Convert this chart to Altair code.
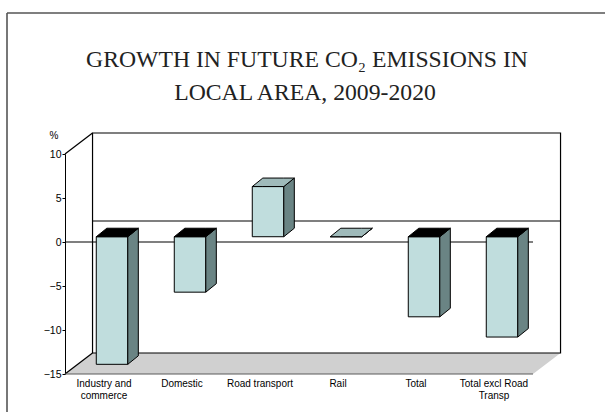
import altair as alt
import pandas as pd

# ---------------- data ----------------
categories = ["Industry and commerce", "Domestic", "Road transport", "Rail",
              "Total", "Total excl Road Transp"]
label_text = ["Industry and\ncommerce", "Domestic", "Road transport", "Rail",
              "Total", "Total excl Road\nTransp"]
values = [-14.5, -6.3, 5.7, 0.0, -9.1, -11.4]
y_ticks = [-15, -10, -5, 0, 5, 10]
title_lines = ["GROWTH IN FUTURE CO\u2082 EMISSIONS IN", "LOCAL AREA, 2009-2020"]
y_min, y_max = -15, 10

# ---------------- 3-D styling constants (in axis units) ----------------
N = len(categories)
WALL_DX, WALL_DY = 0.353, 2.386      # depth of the box (back wall shift)
BAR_OFF, BAR_W = 0.103, 0.404        # front-face centre shift, width
BAR_DX, BAR_DY = 0.135, 0.966        # depth of each column
BAR_V0 = 0.6                         # lift of the column base (depth position)

FRONT = "#c0dddd"
SIDE = "#6a8484"
TOP_POS = "#9fbaba"
TOP_NEG = "#000000"

XS = alt.Scale(domain=[0, N], nice=False, zero=False)
YS = alt.Scale(domain=[y_min, y_max], nice=False, zero=False)
YAX = alt.Axis(values=y_ticks, tickSize=3, labelFont="Liberation Sans",
               labelFontSize=10.5, labelColor="black", domainColor="black",
               tickColor="black", grid=False, title=None, labelPadding=1,
               domainWidth=1)


def X(f="x"):
    return alt.X(f"{f}:Q", scale=XS, axis=None)


def Y(f="y"):
    return alt.Y(f"{f}:Q", scale=YS, axis=YAX)


# floor
fy0, fy1 = y_min, y_min + WALL_DY
floor_df = pd.DataFrame({
    "x": [0, WALL_DX, N, N + WALL_DX],
    "y": [fy0, fy0, fy0, fy1],
    "y2": [fy0, fy1, fy1, fy1],
})
floor = alt.Chart(floor_df).mark_area(color="#d0d0d0", opacity=1).encode(
    x=X(), y=Y(), y2="y2:Q")

# back wall
wall_df = pd.DataFrame({"x": [WALL_DX], "x2": [N + WALL_DX],
                        "y": [y_min + WALL_DY], "y2": [y_max + WALL_DY]})
wall = alt.Chart(wall_df).mark_rect(fill="white", stroke="black", strokeWidth=1.2).encode(
    x=X(), x2="x2:Q", y=Y(), y2="y2:Q")

# structural lines
lines_df = pd.DataFrame({
    "x":  [WALL_DX, 0, 0, 0, 0],
    "x2": [N + WALL_DX, WALL_DX, WALL_DX, N, N],
    "y":  [WALL_DY, y_max, y_min, 0, y_min],
    "y2": [WALL_DY, y_max + WALL_DY, y_min + WALL_DY, 0, y_min],
    "c":  ["black", "black", "black", "black", "#5a5a5a"],
})
lines = alt.Chart(lines_df).mark_rule(strokeWidth=1.2).encode(
    x=X(), x2="x2:Q", y=Y(), y2="y2:Q", color=alt.Color("c:N", scale=None))

# columns
front_rows, side_rows, top_rows = [], [], []
for i, (cat, v) in enumerate(zip(categories, values)):
    cx = i + 0.5 + BAR_OFF
    xl, xr = cx - BAR_W / 2, cx + BAR_W / 2
    lo, hi = min(BAR_V0, BAR_V0 + v), max(BAR_V0, BAR_V0 + v)
    front_rows.append({"id": cat, "x": xl, "x2": xr, "y": lo, "y2": hi})
    side_rows += [
        {"id": cat, "x": xr, "y": lo, "y2": hi},
        {"id": cat, "x": xr + BAR_DX, "y": lo + BAR_DY, "y2": hi + BAR_DY},
    ]
    col = TOP_NEG if v < 0 else TOP_POS
    top_rows += [
        {"id": cat, "x": xl, "y": hi, "y2": hi, "c": col},
        {"id": cat, "x": xl + BAR_DX, "y": hi, "y2": hi + BAR_DY, "c": col},
        {"id": cat, "x": xr, "y": hi, "y2": hi + BAR_DY, "c": col},
        {"id": cat, "x": xr + BAR_DX, "y": hi + BAR_DY, "y2": hi + BAR_DY, "c": col},
    ]

fronts = alt.Chart(pd.DataFrame(front_rows)).mark_rect(
    fill=FRONT, stroke="black", strokeWidth=1).encode(
    x=X(), x2="x2:Q", y=Y(), y2="y2:Q")
sides = alt.Chart(pd.DataFrame(side_rows)).mark_area(
    fill=SIDE, stroke="black", strokeWidth=1, opacity=1).encode(
    x=X(), y=Y(), y2="y2:Q", detail="id:N")
tops = alt.Chart(pd.DataFrame(top_rows)).mark_area(
    stroke="black", strokeWidth=1, opacity=1).encode(
    x=X(), y=Y(), y2="y2:Q", detail="id:N", color=alt.Color("c:N", scale=None))

# category labels
lab_df = pd.DataFrame({"x": [i + 0.5 for i in range(N)], "t": label_text})
labels = alt.Chart(lab_df).mark_text(
    font="Liberation Sans", fontSize=10, color="black", baseline="top",
    lineBreak="\n", lineHeight=12, align="center").encode(
    x=X(), y=alt.value(225), text="t:N")

# unit label
pct = alt.Chart(pd.DataFrame({"t": ["%"]})).mark_text(
    font="Liberation Sans", fontSize=10, color="black", align="center",
    baseline="middle").encode(x=alt.value(-11), y=alt.value(-18), text="t:N")

# title
t1 = alt.Chart(pd.DataFrame({"t": [title_lines[0]]})).mark_text(
    font="Liberation Serif", fontSize=23.7, color="#222222", align="center",
    baseline="alphabetic").encode(x=alt.value(242), y=alt.value(-87.5), text="t:N")
t2 = alt.Chart(pd.DataFrame({"t": [title_lines[1]]})).mark_text(
    font="Liberation Serif", fontSize=23.7, color="#222222", align="center",
    baseline="alphabetic").encode(x=alt.value(240), y=alt.value(-54.5), text="t:N")

# outer frame (left and top edges visible)
frame_l = alt.Chart(pd.DataFrame({"a": [0]})).mark_rule(
    color="#555555", strokeWidth=1.6).encode(
    x=alt.value(-58), y=alt.value(-141), y2=alt.value(258))
frame_t = alt.Chart(pd.DataFrame({"a": [0]})).mark_rule(
    color="#555555", strokeWidth=1.6).encode(
    x=alt.value(-58), x2=alt.value(540), y=alt.value(-141))

chart = alt.layer(
    floor, wall, lines, fronts, sides, tops, labels, pct, t1, t2, frame_l, frame_t
).properties(
    width=468, height=220,
    autosize=alt.AutoSizeParams(type="none"),
    padding={"left": 65, "top": 154, "right": 72, "bottom": 38},
    background="white",
).configure_view(stroke=None)

chart.save("out.html", embed_options={"renderer": "svg", "actions": False})
